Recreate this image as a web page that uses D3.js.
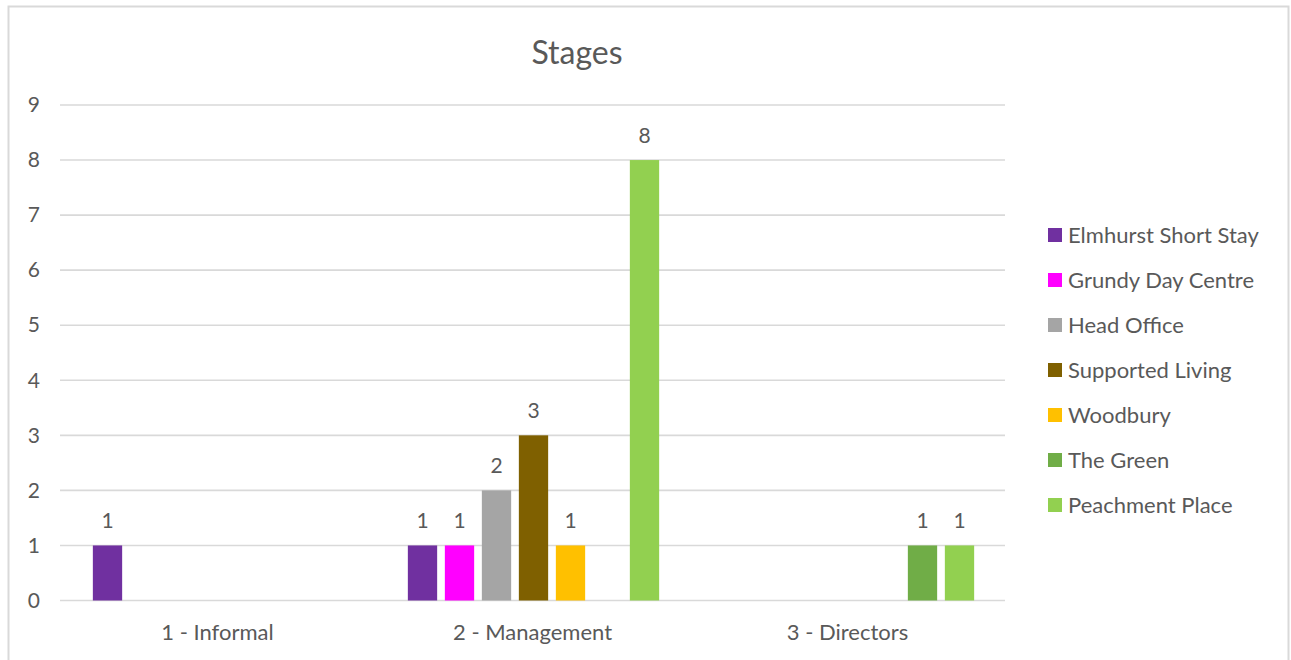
<!DOCTYPE html>
<html>
<head>
<meta charset="utf-8">
<script src="https://cdn.jsdelivr.net/npm/d3@7"></script>
<style>
  html, body { margin: 0; padding: 0; background: #fff; }
  svg { display: block; font-family: Lato, "Open Sans", sans-serif; }
</style>
</head>
<body>
<svg id="chart" width="1291" height="660"></svg>
<script>
// Complaint counts by stage and service
const categories = ["1 - Informal", "2 - Management", "3 - Directors"];
const seriesNames = ["Elmhurst Short Stay", "Grundy Day Centre", "Head Office",
  "Supported Living", "Woodbury", "The Green", "Peachment Place"];
const elmhurst   = [1, 1, null];
const grundy     = [null, 1, null];
const headOffice = [null, 2, null];
const supported  = [null, 3, null];
const woodbury   = [null, 1, null];
const theGreen   = [null, null, 1];
const peachment  = [null, 8, 1];
const seriesColors = ["#7030A0", "#FF00FF", "#A5A5A5", "#7F6000", "#FFC000", "#70AD47", "#92D050"];
const yTicks = [0, 1, 2, 3, 4, 5, 6, 7, 8, 9];

const seriesValues = [elmhurst, grundy, headOffice, supported, woodbury, theGreen, peachment];

const svg = d3.select("#chart");
const textColor = "#595959";
const gridColor = "#d9d9d9";
const fontSize = 22;

// Outer frame
svg.append("rect")
  .attr("x", 8.5).attr("y", 6.5)
  .attr("width", 1280).attr("height", 670)
  .attr("fill", "#fff").attr("stroke", gridColor).attr("stroke-width", 2);

// Title
svg.append("text")
  .attr("x", 577).attr("y", 64)
  .attr("text-anchor", "middle")
  .attr("fill", textColor)
  .attr("font-size", 32)
  .text("Stages");

const plot = { left: 60, right: 1005, top: 105, bottom: 600.5 };

const x0 = d3.scaleBand().domain(categories).range([plot.left, plot.right]).padding(0);
const band = x0.bandwidth();
const step = 37;
const inner = 0.208;
const groupWidth = step * (seriesNames.length - inner);
const x1 = d3.scaleBand().domain(seriesNames)
  .range([(band - groupWidth) / 2 + 1, (band + groupWidth) / 2 + 1])
  .paddingInner(inner).paddingOuter(0);
const y = d3.scaleLinear().domain([0, 9]).range([plot.bottom, plot.top]);

// Horizontal gridlines
svg.append("g")
  .selectAll("line")
  .data(yTicks)
  .join("line")
  .attr("x1", plot.left).attr("x2", plot.right)
  .attr("y1", d => y(d)).attr("y2", d => y(d))
  .attr("stroke", gridColor).attr("stroke-width", 1.6);

// Value axis labels
const yAxis = svg.append("g")
  .attr("transform", `translate(${plot.left - 20},0)`)
  .call(d3.axisLeft(y).tickValues(yTicks).tickSize(0).tickPadding(0).tickFormat(d3.format("d")));
yAxis.select(".domain").remove();
yAxis.selectAll("text")
  .attr("fill", textColor)
  .attr("font-size", 21)
  .attr("font-family", "Lato, 'Open Sans', sans-serif");

// Category axis labels
const xAxis = svg.append("g")
  .attr("transform", `translate(0,${plot.bottom})`)
  .call(d3.axisBottom(x0).tickSize(0).tickPadding(0));
xAxis.select(".domain").remove();
xAxis.selectAll("text")
  .attr("dy", null)
  .attr("y", 39)
  .attr("fill", textColor)
  .attr("font-size", fontSize)
  .attr("font-family", "Lato, 'Open Sans', sans-serif");

// Bars, grouped per category
const records = [];
categories.forEach((c, ci) => {
  seriesNames.forEach((s, si) => {
    const v = seriesValues[si][ci];
    if (v != null) records.push({ category: c, series: s, value: v, color: seriesColors[si] });
  });
});

svg.append("g")
  .selectAll("rect")
  .data(records)
  .join("rect")
  .attr("x", d => x0(d.category) + x1(d.series))
  .attr("y", d => y(d.value))
  .attr("width", x1.bandwidth())
  .attr("height", d => y(0) - y(d.value))
  .attr("fill", d => d.color);

// Data labels
svg.append("g")
  .selectAll("text")
  .data(records)
  .join("text")
  .attr("x", d => x0(d.category) + x1(d.series) + x1.bandwidth() / 2)
  .attr("y", d => y(d.value) - 17)
  .attr("text-anchor", "middle")
  .attr("fill", textColor)
  .attr("font-size", 21)
  .text(d => d.value);

// Legend
const legend = svg.append("g")
  .selectAll("g")
  .data(seriesNames)
  .join("g")
  .attr("transform", (d, i) => `translate(1048,${235 + i * 45})`);
legend.append("rect")
  .attr("x", 0).attr("y", -7)
  .attr("width", 14).attr("height", 14)
  .attr("fill", (d, i) => seriesColors[i]);
legend.append("text")
  .attr("x", 20).attr("y", 8)
  .attr("fill", textColor)
  .attr("font-size", fontSize)
  .text(d => d);
</script>
</body>
</html>
